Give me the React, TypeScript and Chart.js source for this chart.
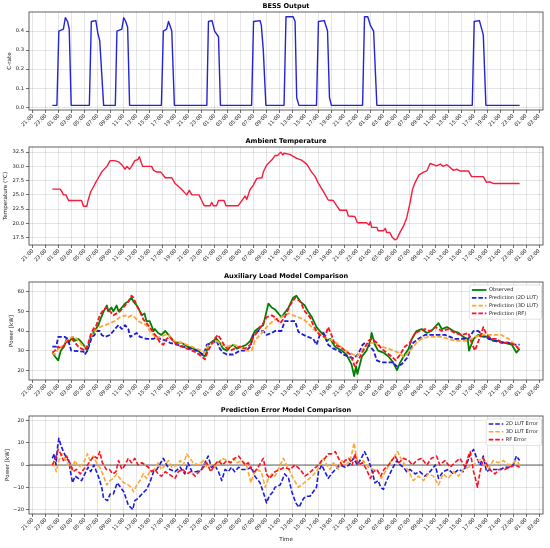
import { useEffect, useRef } from "react";
import { Chart, registerables } from "chart.js";

Chart.register(...registerables);

// ---------- data (hours since 00:00 of the first day, value) ----------
const tickLabels = [
  "21:00", "23:00", "01:00", "03:00", "05:00", "07:00", "09:00", "11:00", "13:00", "15:00", "17:00", "19:00",
  "21:00", "23:00", "01:00", "03:00", "05:00", "07:00", "09:00", "11:00", "13:00", "15:00", "17:00", "19:00",
  "21:00", "23:00", "01:00", "03:00", "05:00", "07:00", "09:00", "11:00", "13:00", "15:00", "17:00", "19:00",
  "21:00", "23:00", "01:00", "03:00",
];

const bessOutput: [number, number][] = [
  [0, 0.01], [0.7, 0.01], [1.0, 0.4], [1.7, 0.41], [2.0, 0.47], [2.35, 0.45], [2.6, 0.41], [2.9, 0.01],
  [5.7, 0.01], [6.0, 0.45], [6.7, 0.455], [7.0, 0.39], [7.3, 0.35], [7.9, 0.01],
  [9.7, 0.01], [9.95, 0.4], [10.7, 0.41], [11.0, 0.47], [11.3, 0.45], [11.6, 0.42], [11.9, 0.01],
  [16.8, 0.01], [17.1, 0.4], [17.6, 0.41], [17.9, 0.45], [18.1, 0.43], [18.4, 0.4], [18.8, 0.01],
  [23.8, 0.01], [24.05, 0.45], [24.6, 0.455], [25.0, 0.4], [25.6, 0.37], [25.9, 0.01],
  [30.7, 0.01], [31.0, 0.45], [32.0, 0.455], [32.2, 0.43], [32.5, 0.3], [32.9, 0.01],
  [35.7, 0.01], [36.0, 0.475], [37.1, 0.475], [37.4, 0.45], [37.65, 0.05], [38.0, 0.01],
  [40.7, 0.01], [41.0, 0.45], [41.9, 0.455], [42.4, 0.4], [42.7, 0.05], [43.0, 0.01],
  [47.8, 0.01], [48.1, 0.475], [48.6, 0.475], [49.0, 0.43], [49.5, 0.4], [50.0, 0.01],
  [64.7, 0.01], [65.0, 0.45], [65.8, 0.455], [66.4, 0.38], [66.8, 0.01], [72, 0.01],
];

const ambientTemperature: [number, number][] = [
  [0, 26], [1.2, 26], [1.5, 25.5], [1.7, 25], [2.1, 25], [2.3, 24.5], [2.5, 24], [4.5, 24], [4.8, 23], [5.3, 23],
  [5.5, 24], [5.9, 25.5], [6.6, 27], [7.1, 28], [7.6, 29], [8.4, 30], [8.9, 31], [9.6, 31], [10.2, 30.8],
  [10.7, 30.3], [11.2, 29.5], [11.5, 30], [11.9, 29.5], [12.2, 30], [12.7, 31], [13.2, 31.2], [13.4, 31.7],
  [13.6, 31], [13.9, 30], [15.3, 30], [15.6, 29.3], [16.1, 29], [16.7, 29], [17.4, 28], [18.4, 28], [18.9, 27],
  [19.4, 26.5], [19.9, 26], [20.7, 25], [21.1, 25.8], [21.5, 25], [22.6, 25], [23.0, 24], [23.4, 23.1],
  [24.3, 23.1], [24.55, 23.7], [24.8, 23.1], [25.3, 23.1], [25.6, 24], [26.45, 24], [26.75, 23.1], [28.65, 23.1],
  [29.2, 24], [29.7, 24.8], [29.95, 24.2], [30.45, 25.9], [30.96, 26.7], [31.5, 27.9], [32.3, 28], [32.5, 29],
  [33.0, 30.2], [33.8, 31.1], [34.3, 31.9], [34.7, 31.9], [35.2, 32.5], [35.5, 32], [35.7, 32.3], [36.6, 32.1],
  [37.65, 31.4], [38.4, 31.1], [39.2, 30.4], [39.95, 29], [40.5, 28.2], [41.0, 27], [41.75, 25.6], [42.5, 24.1],
  [43.3, 24], [43.8, 23.1], [44.3, 22.3], [45.35, 22.3], [45.6, 21.3], [46.6, 21.2], [47.0, 20.1], [48.4, 20.1],
  [48.8, 19.7], [49.0, 20.3], [49.2, 19.3], [50.0, 19.3], [50.2, 18.7], [51.0, 18.7], [51.3, 19.1], [51.5, 18.4],
  [52.0, 18.4], [52.4, 17.5], [52.8, 17.1], [53.1, 17.3], [53.6, 18.5], [54.1, 19.5], [54.6, 21], [55.1, 23.5],
  [55.5, 26], [55.9, 27.2], [56.5, 28.5], [57.2, 29], [57.7, 29.2], [58.2, 30.5], [58.7, 30.3], [59.2, 30.1],
  [59.8, 30.4], [60.2, 30], [60.8, 30.3], [61.3, 29.8], [61.8, 29.3], [62.3, 29.5], [62.8, 29.2], [64.1, 29.2],
  [64.6, 28.2], [66.4, 28.2], [66.9, 27.2], [67.4, 27.3], [67.9, 27.0], [72, 27.0],
];

const observedLoad: [number, number][] = [
  [0, 29], [0.4, 27], [0.9, 25], [1.3, 30], [1.8, 32], [2.2, 36], [2.5, 34], [3.1, 37], [3.5, 35], [4.0, 36],
  [4.3, 35], [4.8, 33], [5.2, 31], [5.4, 30], [5.9, 37], [6.5, 40], [7.1, 43], [7.3, 45], [7.9, 50], [8.4, 53],
  [8.6, 50], [9.1, 52], [9.4, 50], [9.9, 53], [10.2, 50], [10.7, 52], [11.2, 54], [11.7, 55], [12.2, 57],
  [12.5, 55], [13.0, 53], [13.5, 50], [13.8, 48], [14.2, 49], [14.5, 45], [15.0, 45], [15.6, 40], [15.8, 41],
  [16.3, 39], [16.8, 38], [17.4, 40], [17.9, 38], [18.4, 36], [18.6, 35], [19.2, 34], [19.9, 34], [20.4, 33],
  [20.9, 32], [21.7, 31], [22.5, 30], [23.0, 28], [23.5, 27], [23.8, 30], [24.0, 33], [24.8, 35], [25.3, 36],
  [25.8, 34], [26.3, 31], [26.9, 30], [27.4, 32], [27.9, 33], [28.4, 31], [29.2, 32], [29.9, 33], [30.5, 35],
  [31.2, 40], [32.0, 42], [32.5, 43], [33.0, 50], [33.3, 54], [33.8, 52], [34.3, 51], [35.3, 47], [36.4, 52],
  [37.1, 57], [37.6, 58], [38.2, 55], [38.9, 53], [39.4, 50], [40.0, 47], [40.7, 42], [41.2, 40], [41.8, 38],
  [42.3, 35], [42.8, 36], [43.55, 32], [44.6, 30], [45.3, 28], [46.1, 23], [46.5, 17], [46.8, 22], [47.0, 18],
  [47.7, 27], [48.4, 30], [49.0, 35], [49.2, 39], [49.7, 33], [50.2, 30], [51.0, 29], [51.8, 27], [52.5, 24],
  [53.1, 20], [53.6, 24], [54.3, 28], [54.9, 31], [55.4, 36], [56.1, 40], [56.9, 41], [57.7, 39], [58.4, 40],
  [59.5, 44], [60.0, 41], [60.8, 42], [61.8, 40], [62.6, 39], [63.3, 37], [64.0, 36], [64.2, 30], [64.9, 36],
  [65.6, 38], [66.4, 37], [67.2, 37], [67.9, 35], [68.7, 35], [69.7, 34], [70.8, 33], [71.5, 29], [72, 31],
];

const lut2dLoad: [number, number][] = [
  [0, 32], [0.6, 32], [0.9, 37], [1.9, 37], [2.4, 36], [2.9, 30], [4.8, 29.5], [5.0, 28], [5.4, 30], [6.1, 37],
  [6.5, 38], [6.8, 40], [7.3, 40], [7.6, 38], [8.1, 37], [8.9, 38], [9.4, 40], [9.9, 42], [10.2, 43], [10.7, 41],
  [11.2, 43], [11.7, 41], [12.0, 37], [12.5, 38], [13.0, 39], [13.5, 37], [14.5, 36], [15.6, 36], [16.1, 37],
  [16.6, 36], [17.6, 35], [18.1, 34], [19.2, 33], [20.2, 32], [21.2, 31], [22.2, 30], [22.7, 29], [23.3, 28],
  [23.8, 33], [24.8, 34], [25.3, 35], [25.8, 31], [26.3, 29], [26.9, 28], [27.9, 28], [28.4, 29], [28.9, 30],
  [29.9, 30], [30.5, 32], [31.0, 38], [31.7, 40], [32.5, 40], [33.0, 38], [33.8, 39], [34.3, 40], [35.3, 40],
  [35.8, 45], [36.6, 45], [37.4, 45], [37.9, 39.6], [38.7, 38], [39.4, 37], [40.2, 36], [40.7, 33], [41.2, 38],
  [41.8, 39], [42.5, 33], [43.3, 31], [44.1, 30], [44.8, 28], [45.6, 27], [46.4, 26], [47.1, 28], [47.8, 33],
  [48.2, 34], [48.7, 33], [49.5, 30], [50.0, 25], [50.7, 24], [51.8, 24], [52.5, 24], [53.0, 22], [53.8, 23],
  [54.6, 26], [55.1, 30], [55.6, 34], [56.4, 36], [57.4, 38], [58.4, 38], [59.5, 38], [60.5, 38], [61.3, 37],
  [62.0, 36], [63.1, 36], [64.1, 36], [64.9, 40], [65.6, 40], [66.4, 38], [67.2, 36], [68.2, 35], [69.2, 34],
  [70.3, 34], [71.3, 33], [72, 33],
];

const lut3dLoad: [number, number][] = [
  [0, 29], [0.4, 28], [0.9, 31], [1.4, 32], [1.9, 33], [2.2, 35], [3.0, 37], [3.5, 37], [4.0, 35], [4.5, 33],
  [5.0, 32], [5.4, 32], [5.8, 37], [6.6, 40], [7.3, 42], [8.1, 43], [8.9, 44], [9.6, 45], [10.4, 47], [11.2, 48],
  [11.7, 47], [12.2, 48], [12.7, 47], [13.2, 45], [13.8, 44], [14.5, 43], [15.0, 40], [15.6, 38], [16.1, 36],
  [16.6, 37], [17.4, 38], [17.9, 38], [18.4, 36], [19.2, 34], [19.9, 34], [20.7, 33], [21.5, 32], [22.2, 31],
  [23.0, 30], [23.5, 29], [24.0, 33], [24.8, 34], [25.3, 35], [26.1, 33], [26.9, 32], [27.9, 33], [28.9, 32],
  [29.9, 30], [30.7, 30], [31.2, 35], [32.0, 38], [32.5, 40], [33.3, 43], [34.3, 46], [35.3, 47], [36.4, 49],
  [37.1, 48], [37.9, 47], [38.7, 46], [39.4, 44], [40.2, 41], [41.0, 39], [41.8, 37], [42.5, 36], [43.3, 35],
  [44.1, 33], [44.8, 31], [45.6, 29], [46.4, 28], [46.9, 27], [47.7, 30], [48.4, 33], [49.2, 34], [50.0, 33],
  [50.7, 32], [51.8, 31], [52.5, 30], [53.3, 29], [54.1, 27], [54.6, 28], [55.4, 31], [56.1, 34], [56.9, 36],
  [57.9, 37], [59.0, 37], [60.0, 37], [61.0, 36], [62.0, 35], [63.1, 35], [64.1, 35], [65.1, 37], [66.1, 38],
  [67.2, 38], [68.2, 38], [69.2, 38], [70.3, 36], [71.3, 33], [72, 31],
];

const rfLoad: [number, number][] = [
  [0, 29], [0.4, 30], [0.9, 32], [1.4, 31], [1.9, 33], [2.4, 35], [3.0, 36], [3.5, 34], [4.0, 32], [4.5, 31],
  [5.0, 30], [5.5, 33], [5.9, 38], [6.3, 41], [6.8, 43], [7.3, 48], [7.9, 51], [8.4, 52], [8.9, 50], [9.4, 48],
  [9.9, 49], [10.4, 50], [11.2, 53], [11.7, 55], [12.2, 58], [12.5, 57], [13.0, 53], [13.5, 50], [14.0, 46],
  [14.5, 44], [15.0, 42], [15.6, 39], [16.1, 37], [16.6, 34], [17.1, 33], [17.6, 36], [18.1, 37], [18.6, 35],
  [19.2, 33], [19.9, 32], [20.7, 31], [21.5, 30], [22.2, 29], [23.0, 27], [23.5, 25.5], [24.0, 30], [24.5, 33],
  [25.0, 36], [25.5, 38], [26.1, 35], [26.6, 32], [27.4, 30], [28.1, 31], [28.9, 32], [29.7, 31], [30.5, 33],
  [31.0, 37], [31.7, 40], [32.5, 44], [33.0, 47], [33.8, 48], [34.3, 47], [35.1, 44], [35.8, 47], [36.6, 53],
  [37.4, 57], [38.2, 55], [38.9, 50], [39.7, 47], [40.2, 43], [40.7, 40], [41.2, 38], [42.0, 37], [42.5, 42],
  [43.0, 38], [43.55, 33], [44.3, 32], [45.1, 30], [45.9, 28], [46.6, 22], [47.1, 25], [47.9, 30], [48.7, 35],
  [49.2, 36], [50.0, 34], [50.7, 31], [51.5, 29], [52.3, 27], [52.9, 25], [53.6, 28], [54.3, 32], [55.1, 34],
  [55.9, 39], [56.6, 40], [57.4, 41], [58.2, 40], [59.0, 42], [60.0, 40], [61.0, 41], [62.0, 39], [63.1, 38],
  [64.1, 39], [64.6, 34], [65.1, 30], [65.9, 37], [66.4, 42], [66.9, 38], [67.7, 36], [68.5, 36], [69.2, 34],
  [70.3, 34], [71.3, 33], [72, 30],
];

const lut2dError: [number, number][] = [
  [0, 3], [0.3, 5], [0.56, 0], [0.8, 8], [1.0, 12], [1.3, 9], [1.7, 6], [2.2, 3], [2.5, 2], [2.8, -3], [3.1, -8],
  [3.5, -5], [4.0, -6], [4.5, -7], [5.0, -4], [5.5, -1], [5.9, -3], [6.4, 0], [6.8, -3], [7.2, -6], [7.6, -10],
  [7.9, -15], [8.5, -16], [8.9, -13], [9.4, -13], [10.0, -8], [10.5, -10], [11.0, -12], [11.7, -18], [12.4, -20],
  [12.7, -16], [13.2, -15], [13.8, -13], [14.5, -11], [15.0, -8], [15.6, -3], [16.1, -2], [16.7, 1], [17.1, 3],
  [17.6, 0], [18.1, -2], [18.9, -3], [19.7, -1], [20.4, -4], [20.9, 1], [21.5, -3], [22.2, -3], [23.0, -2],
  [23.5, 1], [24.0, 4], [24.5, -1], [25.0, 0], [25.6, -3], [26.1, -7], [26.6, -2], [27.1, -3], [27.6, -1],
  [28.1, -3], [28.7, -1], [29.2, -2], [29.9, -2], [30.7, -1], [31.2, -5], [32.0, -8], [32.7, -14], [33.0, -17],
  [33.4, -14], [34.0, -12], [34.3, -10], [35.1, -9], [35.8, -4], [36.4, -6], [36.9, -12], [37.5, -17], [38.0, -19],
  [38.7, -15], [39.2, -14], [39.7, -14], [40.2, -12], [40.7, -10], [41.0, -3], [41.5, 0], [42.0, -3], [42.5, -6],
  [43.0, -4], [43.6, -2], [44.3, 0], [45.1, -1], [45.7, 0], [46.4, 3], [47.0, 0], [47.6, 3], [48.1, 6], [48.6, 3],
  [49.2, -2], [49.7, -8], [50.2, -7], [50.6, -10], [51.0, -11], [51.5, -7], [52.0, -4], [52.5, -1], [53.1, 2],
  [53.6, 0], [54.1, -1], [54.6, -3], [55.1, -2], [55.9, -4], [56.6, -3], [57.4, -5], [58.2, -3], [59.0, 0],
  [59.5, -6], [60.2, -3], [61.0, -2], [61.8, -4], [62.6, -2], [63.3, -3], [63.8, 0], [64.4, 5], [64.9, 7],
  [65.4, 3], [65.9, 0], [66.4, 4], [66.9, -3], [67.4, -2], [68.2, -2], [69.0, -2], [69.7, -1], [70.3, -1],
  [71.0, 0], [71.5, 4], [72, 2],
];

const lut3dError: [number, number][] = [
  [0, 1], [0.3, 0], [0.6, -3], [0.9, 1], [1.4, 5], [1.9, 3], [2.5, 0], [3.0, -2], [3.5, 2], [4.0, -1], [4.5, 0],
  [5.0, 2], [5.4, 5], [5.8, 2], [6.3, 4], [6.8, 1], [7.3, -1], [7.9, -5], [8.4, -9], [8.9, -7], [9.4, -6],
  [9.9, -4], [10.4, -6], [11.0, -8], [11.7, -9], [12.2, -10], [12.5, -12], [13.0, -9], [13.5, -7], [14.0, -4],
  [14.5, -6], [15.0, -3], [15.7, -2], [16.3, 1], [16.8, -2], [17.4, 0], [17.9, 2], [18.4, -1], [19.2, 0],
  [19.7, 2], [20.2, 0], [20.7, 5], [21.2, 3], [21.7, 1], [22.5, 0], [23.3, 2], [23.8, -1], [24.3, 0], [25.0, -1],
  [25.6, 1], [26.1, 3], [26.9, 2], [27.4, 1], [27.9, 3], [28.5, 1], [29.2, 2], [29.9, 0], [30.6, -8], [31.0, -4],
  [31.5, -2], [32.2, -3], [32.8, -10], [33.3, -6], [33.8, -4], [34.3, -5], [35.1, 0], [35.6, 3], [36.1, 0],
  [36.6, -3], [37.1, -6], [37.9, -10], [38.4, -9], [39.2, -7], [40.0, -5], [40.7, -3], [41.2, 0], [41.8, 3],
  [42.3, 0], [42.8, -2], [43.3, 1], [44.1, -2], [44.6, 2], [45.3, 0], [45.9, 2], [46.5, 10], [46.9, 3], [47.4, 0],
  [47.9, 2], [48.7, -1], [49.5, -2], [50.2, -3], [50.7, -6], [51.3, -3], [52.0, 1], [52.5, 3], [53.2, 6],
  [53.7, 3], [54.3, 0], [55.1, -4], [55.6, -7], [56.4, -5], [57.2, -7], [57.9, -4], [58.7, -5], [59.5, -9],
  [60.2, -4], [61.0, -6], [61.8, -3], [62.6, -5], [63.3, -2], [64.1, -1], [64.9, 0], [65.6, 2], [66.4, 3],
  [67.2, -2], [67.9, 2], [68.7, 1], [69.5, 2], [70.3, 0], [71.0, 1], [71.5, 2], [72, 0],
];

const rfError: [number, number][] = [
  [0, 0], [0.5, 3], [0.9, 7], [1.3, 5], [1.7, 2], [2.2, 4], [2.7, 1], [3.2, -3], [3.7, -2], [4.3, -4], [4.8, -2],
  [5.4, 0], [5.9, 2], [6.4, 4], [6.9, 3], [7.3, 6], [7.7, 1], [8.3, -2], [8.8, -2], [9.3, -4], [9.8, -3],
  [10.2, 2], [10.7, -2], [11.2, 0], [11.7, 3], [12.2, 1], [12.7, 3], [13.2, 0], [13.8, 1], [14.3, 0], [14.8, -1],
  [15.3, -3], [15.8, -2], [16.3, -4], [16.8, -5], [17.4, -3], [17.9, -4], [18.4, -5], [18.9, -6], [19.4, -3],
  [20.1, -2], [20.7, -4], [21.3, -3], [22.0, -5], [22.6, -3], [23.3, -1], [23.8, 1], [24.4, -3], [25.0, 0],
  [25.6, 2], [26.2, 0], [26.9, 2], [27.5, 1], [28.1, 3], [28.7, 4], [29.2, 2], [29.7, 0], [30.2, 1], [30.7, -2],
  [31.2, -3], [31.9, 0], [32.5, 3], [33.0, -4], [33.5, -6], [34.3, -3], [35.1, -2], [35.8, -1], [36.6, -2],
  [37.4, 0], [38.2, -2], [38.9, -5], [39.4, -4], [40.2, -2], [41.0, 0], [41.5, 2], [42.0, 3], [42.5, 5], [43.0, 5],
  [43.6, 6], [44.1, 3], [44.6, 0], [45.1, 2], [45.7, 3], [46.2, 0], [46.6, 5], [47.1, 0], [47.8, 1], [48.4, -2],
  [49.0, -6], [49.5, -3], [50.0, -2], [50.6, -5], [51.1, -2], [51.8, 0], [52.3, 2], [52.8, 4], [53.4, 1],
  [54.1, 3], [54.9, 2], [55.5, 0], [56.1, 2], [56.9, 3], [57.7, 0], [58.4, 3], [59.2, 4], [59.7, 0], [60.5, 2],
  [61.3, -1], [62.0, 1], [62.8, 3], [63.6, -1], [64.1, 4], [64.4, 6], [64.9, -3], [65.1, -5], [65.5, -10],
  [65.9, -3], [66.4, 3], [66.8, 1], [67.4, -2], [68.2, -4], [68.8, -2], [69.7, -2], [70.5, -1], [71.3, 0], [72, -1],
];

const bessTicks = [0, 0.1, 0.2, 0.3, 0.4];
const temperatureTicks = [17.5, 20, 22.5, 25, 27.5, 30, 32.5];
const loadTicks = [20, 30, 40, 50, 60];
const errorTicks = [-20, -10, 0, 10, 20];

// ---------- styling ----------
const FAMILY = '"DejaVu Sans", sans-serif';
const TICK_COLOR = "#222";
const GRID_COLOR = "rgba(0,0,0,0.15)";
const DASH = [4.5, 2];

type Series = {
  label: string;
  data: [number, number][];
  color: string;
  width: number;
  dash?: number[];
  order: number;
};

type PanelDef = {
  top: number;
  height: number;
  title: string;
  ylabel: string;
  ylabelX: number;
  ymin: number;
  ymax: number;
  yticks: number[];
  yfmt: (v: number) => string;
  series: Series[];
  legend: boolean;
  zeroLine?: boolean;
  xlabel?: string;
};

const minus = (s: string) => s.replace("-", "\u2212");

const panels: PanelDef[] = [
  {
    top: 0, height: 134, title: "BESS Output", ylabel: "C-rate", ylabelX: 10,
    ymin: -0.0145, ymax: 0.5, yticks: bessTicks, yfmt: (v) => v.toFixed(1), legend: false,
    series: [{ label: "BESS", data: bessOutput, color: "#2424d4", width: 1.4, order: 0 }],
  },
  {
    top: 135, height: 134, title: "Ambient Temperature", ylabel: "Temperature (°C)", ylabelX: 6,
    ymin: 16.2, ymax: 33.4, yticks: temperatureTicks, yfmt: (v) => v.toFixed(1), legend: false,
    series: [{ label: "Temperature", data: ambientTemperature, color: "#f51c3c", width: 1.4, order: 0 }],
  },
  {
    top: 270, height: 134, title: "Auxiliary Load Model Comparison", ylabel: "Power [kW]", ylabelX: 12,
    ymin: 15, ymax: 65, yticks: loadTicks, yfmt: (v) => String(Math.round(v)), legend: true,
    series: [
      { label: "Observed", data: observedLoad, color: "#008000", width: 1.8, order: 3 },
      { label: "Prediction (2D LUT)", data: lut2dLoad, color: "#1c1cd8", width: 1.8, dash: DASH, order: 2 },
      { label: "Prediction (3D LUT)", data: lut3dLoad, color: "#ffa733", width: 1.8, dash: DASH, order: 1 },
      { label: "Prediction (RF)", data: rfLoad, color: "#ff1020", width: 1.8, dash: DASH, order: 0 },
    ],
  },
  {
    top: 404, height: 144, title: "Prediction Error Model Comparison", ylabel: "Power [kW]", ylabelX: 8,
    ymin: -22, ymax: 22, yticks: errorTicks, yfmt: (v) => minus(String(Math.round(v))), legend: true,
    zeroLine: true, xlabel: "Time",
    series: [
      { label: "2D LUT Error", data: lut2dError, color: "#1c1cd8", width: 1.6, dash: DASH, order: 2 },
      { label: "3D LUT Error", data: lut3dError, color: "#ffa733", width: 1.6, dash: DASH, order: 1 },
      { label: "RF Error", data: rfError, color: "#ff1020", width: 1.6, dash: DASH, order: 0 },
    ],
  },
];

const AREA_TOP = 12;
const AREA_H = 98;
const Y_AXIS_W = 29;
const RIGHT_PAD = 7;

function makeDecor(p: PanelDef) {
  return {
    id: "decor",
    beforeDatasetsDraw(chart: any) {
      if (!p.zeroLine) return;
      const { ctx, chartArea: a } = chart;
      const y = chart.scales.y.getPixelForValue(0);
      ctx.save();
      ctx.strokeStyle = "rgba(0,0,0,0.75)";
      ctx.lineWidth = 0.8;
      ctx.beginPath();
      ctx.moveTo(a.left, y);
      ctx.lineTo(a.right, y);
      ctx.stroke();
      ctx.restore();
    },
    afterDraw(chart: any) {
      const { ctx, chartArea: a } = chart;
      ctx.save();
      // frame
      ctx.strokeStyle = "#3a3a3a";
      ctx.lineWidth = 0.8;
      ctx.strokeRect(a.left, a.top, a.right - a.left, a.bottom - a.top);
      // title
      ctx.fillStyle = "#000";
      ctx.font = `bold 6.6px ${FAMILY}`;
      ctx.textAlign = "center";
      ctx.textBaseline = "bottom";
      ctx.fillText(p.title, (a.left + a.right) / 2, a.top - 2.5);
      // x label
      if (p.xlabel) {
        ctx.font = `5.6px ${FAMILY}`;
        ctx.fillStyle = "#222";
        ctx.textBaseline = "middle";
        ctx.fillText(p.xlabel, (a.left + a.right) / 2, a.bottom + 26);
      }
      // y label
      ctx.save();
      ctx.translate(p.ylabelX, (a.top + a.bottom) / 2);
      ctx.rotate(-Math.PI / 2);
      ctx.font = `5.6px ${FAMILY}`;
      ctx.fillStyle = "#222";
      ctx.textAlign = "center";
      ctx.textBaseline = "middle";
      ctx.fillText(p.ylabel, 0, 0);
      ctx.restore();
      // legend
      if (p.legend) {
        ctx.font = `5.1px ${FAMILY}`;
        const tw = Math.max(...p.series.map((s) => ctx.measureText(s.label).width));
        const rowH = 7.8;
        const w = tw + 23;
        const h = p.series.length * rowH + 3;
        const x = a.right - 1.5 - w;
        const y = a.top + 3;
        ctx.fillStyle = "rgba(255,255,255,0.85)";
        ctx.strokeStyle = "#cfcfcf";
        ctx.lineWidth = 0.6;
        ctx.beginPath();
        const r = 1.5;
        ctx.moveTo(x + r, y);
        ctx.lineTo(x + w - r, y);
        ctx.quadraticCurveTo(x + w, y, x + w, y + r);
        ctx.lineTo(x + w, y + h - r);
        ctx.quadraticCurveTo(x + w, y + h, x + w - r, y + h);
        ctx.lineTo(x + r, y + h);
        ctx.quadraticCurveTo(x, y + h, x, y + h - r);
        ctx.lineTo(x, y + r);
        ctx.quadraticCurveTo(x, y, x + r, y);
        ctx.closePath();
        ctx.fill();
        ctx.stroke();
        p.series.forEach((s, k) => {
          const cy = y + 5 + k * rowH;
          ctx.strokeStyle = s.color;
          ctx.lineWidth = s.width;
          ctx.setLineDash(s.dash || []);
          ctx.beginPath();
          ctx.moveTo(x + 2.5, cy);
          ctx.lineTo(x + 17, cy);
          ctx.stroke();
          ctx.setLineDash([]);
          ctx.fillStyle = "#222";
          ctx.textAlign = "left";
          ctx.textBaseline = "middle";
          ctx.fillText(s.label, x + 19.5, cy);
        });
      }
      ctx.restore();
    },
  };
}

function buildChart(canvas: HTMLCanvasElement, p: PanelDef) {
  const xAxisH = p.height - AREA_TOP - AREA_H;
  return new Chart(canvas, {
    type: "line",
    data: {
      datasets: p.series.map((s) => ({
        label: s.label,
        data: s.data.map(([x, y]) => ({ x, y })),
        borderColor: s.color,
        backgroundColor: s.color,
        borderWidth: s.width,
        borderDash: s.dash || [],
        borderJoinStyle: "round" as const,
        pointRadius: 0,
        pointHoverRadius: 0,
        fill: false,
        tension: 0,
        order: s.order,
      })),
    },
    options: {
      responsive: false,
      animation: false,
      events: [],
      layout: { padding: { top: AREA_TOP, right: RIGHT_PAD, left: 0, bottom: 0 } },
      plugins: { legend: { display: false }, tooltip: { enabled: false }, title: { display: false } },
      scales: {
        x: {
          type: "linear",
          min: -3.6,
          max: 75.6,
          afterBuildTicks: (scale: any) => {
            scale.ticks = tickLabels.map((_, i) => ({ value: -3 + 2 * i }));
          },
          afterFit: (scale: any) => {
            scale.height = xAxisH;
          },
          ticks: {
            autoSkip: false,
            maxRotation: 45,
            minRotation: 45,
            padding: 0,
            color: TICK_COLOR,
            font: { family: FAMILY, size: 5.2 },
            callback: (_v: any, i: number) => tickLabels[i],
          },
          grid: { color: GRID_COLOR, lineWidth: 0.7, tickColor: "#333", tickLength: 3, tickWidth: 0.7 },
          border: { display: false },
        },
        y: {
          type: "linear",
          min: p.ymin,
          max: p.ymax,
          afterBuildTicks: (scale: any) => {
            scale.ticks = p.yticks.map((v) => ({ value: v }));
          },
          afterFit: (scale: any) => {
            scale.width = Y_AXIS_W;
          },
          ticks: {
            padding: 2,
            color: TICK_COLOR,
            font: { family: FAMILY, size: 5.2 },
            callback: (v: any) => p.yfmt(Number(v)),
          },
          grid: { color: GRID_COLOR, lineWidth: 0.7, tickColor: "#333", tickLength: 3, tickWidth: 0.7 },
          border: { display: false },
        },
      },
    } as any,
    plugins: [makeDecor(p)],
  });
}

export default function App() {
  const refs = useRef<(HTMLCanvasElement | null)[]>([]);

  useEffect(() => {
    document.body.style.margin = "0";
    const charts = panels.map((p, i) => buildChart(refs.current[i] as HTMLCanvasElement, p));
    return () => charts.forEach((c) => c.destroy());
  }, []);

  return (
    <div style={{ position: "relative", width: 550, height: 548, background: "#fff", overflow: "hidden" }}>
      {panels.map((p, i) => (
        <canvas
          key={i}
          ref={(el) => {
            refs.current[i] = el;
          }}
          width={550}
          height={p.height}
          style={{ position: "absolute", left: 0, top: p.top, width: 550, height: p.height, display: "block" }}
        />
      ))}
    </div>
  );
}
